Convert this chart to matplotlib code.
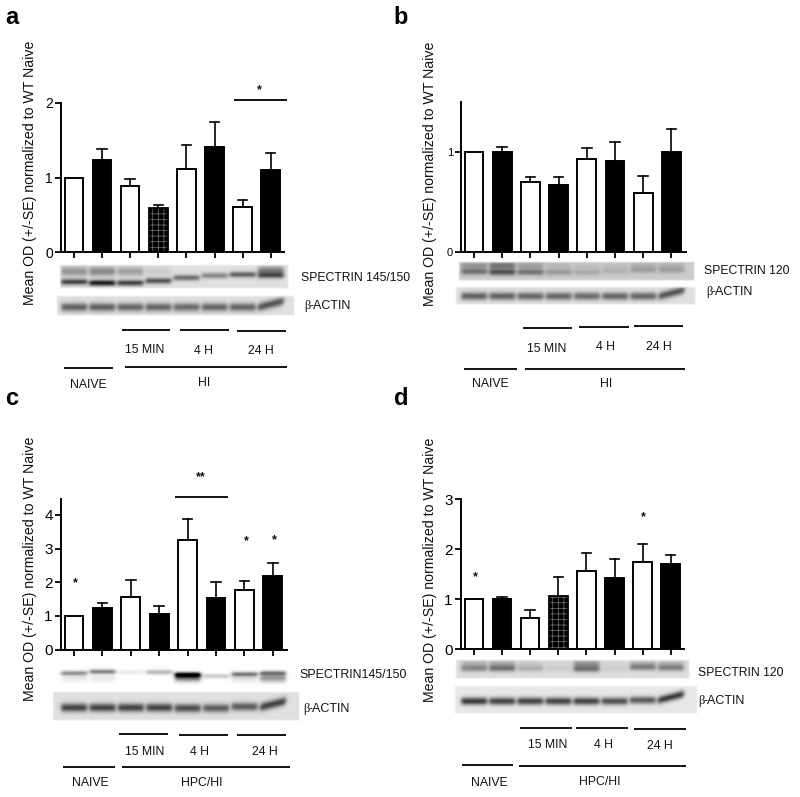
import numpy as np
import matplotlib
matplotlib.use('Agg')
import matplotlib.pyplot as plt

plt.rcParams['font.family'] = ['Liberation Sans', 'DejaVu Sans']
plt.rcParams['hatch.linewidth'] = 0.5

# bar heights and top of the error bars
a_mean = [1.0, 1.23, 0.89, 0.59, 1.12, 1.41, 0.61, 1.10]
a_top = [1.0, 1.38, 0.98, 0.63, 1.44, 1.75, 0.70, 1.33]
b_mean = [1.0, 1.0, 0.70, 0.67, 0.93, 0.91, 0.59, 1.0]
b_top = [1.0, 1.05, 0.75, 0.75, 1.04, 1.10, 0.76, 1.23]
c_mean = [1.0, 1.24, 1.55, 1.07, 3.25, 1.53, 1.77, 2.18]
c_top = [1.0, 1.38, 2.06, 1.31, 3.88, 2.0, 2.03, 2.57]
d_mean = [1.0, 1.0, 0.63, 1.07, 1.57, 1.43, 1.75, 1.70]
d_top = [1.0, 1.05, 0.78, 1.44, 1.93, 1.81, 2.10, 1.88]

# band darkness per lane in the blots
a_main = [.62, .78, .62, .55, .45, .35, .5, .45]
a_upper = [.3, .35, .25, .08, 0, 0, 0, .4]
b_main = [.35, .48, .35, .2, .14, .1, .16, .16]
b_upper = [.22, .35, .18, .08, .05, .05, .1, .1]
c_main = [.42, .48, .08, .28, .85, .2, .5, .5]
c_lower = [.08, .08, 0, 0, .55, 0, .12, .4]
d_main = [.3, .38, .16, .06, .38, .06, .3, .32]
d_upper = [.18, .22, .08, .03, .3, .03, .18, .16]
actin_a = [.5, .5, .48, .48, .46, .48, .48, .55]
actin_b = [.5, .5, .48, .48, .46, .48, .48, .55]
actin_c = [.62, .62, .62, .62, .58, .52, .52, .62]
actin_d = [.68, .64, .64, .64, .64, .6, .55, .68]

W, H = 800, 797
fig = plt.figure(figsize=(W / 100, H / 100), dpi=100)

# overlay in pixel coordinates for blots, lines and text
ov = fig.add_axes([0, 0, 1, 1])
ov.axis('off')


def bars(x0, x1, ytop, y0, c0, dx, ymax, mean, top, ticks, size, hatched=None):
    ax = fig.add_axes([x0 / W, 1 - y0 / H, (x1 - x0) / W, (y0 - ytop) / H])
    ax.patch.set_alpha(0)
    ax.set_xlim((x0 - c0) / dx, (x1 - c0) / dx)
    ax.set_ylim(0, ymax)
    for i in range(8):
        fc = 'white' if i % 2 == 0 else 'black'
        if i > 0:
            ax.plot([i, i], [mean[i], top[i]], color='black', lw=1.2, zorder=1)
            ax.plot([i - .17, i + .17], [top[i], top[i]], color='black', lw=1.2, zorder=1)
        if i == hatched:
            ax.bar(i, mean[i], 0.66, color='black', edgecolor='#777777', hatch='+++', lw=0, zorder=2)
            ax.bar(i, mean[i], 0.66, fill=False, edgecolor='black', lw=1.3, zorder=3)
        else:
            ax.bar(i, mean[i], 0.66, color=fc, edgecolor='black', lw=1.4, zorder=2)
    for s in ['top', 'right']:
        ax.spines[s].set_visible(False)
    for s in ['left', 'bottom']:
        ax.spines[s].set_linewidth(1.4)
    ax.set_xticks(range(8))
    ax.set_xticklabels([])
    ax.set_yticks(ticks)
    ax.tick_params(axis='both', length=4, width=1.3, labelsize=size, pad=1.5)
    return ax


def blot(x0, x1, y0, y1, bg, c0, dx, bands, last_slope=0.0):
    # bands: (darkness per lane, y per lane, sigma)
    xs = np.arange(x0, x1, 1 / 3)
    ys = np.arange(y0, y1, 1 / 3)
    X, Y = np.meshgrid(xs, ys)
    dark = np.zeros_like(X)
    for amp, yc, sig in bands:
        for i in range(8):
            xc = c0 + i * dx
            slope = last_slope if i == 7 else 0.0
            prof = 0.5 * (np.tanh((X - xc + 12.8) / 2.2) - np.tanh((X - xc - 12.8) / 2.2))
            dark += amp[i] * prof * np.exp(-((Y - yc[i] - slope * (X - xc)) ** 2) / (2 * sig ** 2))
    img = np.clip(bg - dark, 0, 1)
    edge = np.minimum.reduce([X - x0, x1 - X, Y - y0, y1 - Y])
    rgba = np.dstack([img, img, img, np.clip(edge / 2.0, 0, 1)])
    ov.imshow(rgba, extent=(x0, x1, y1, y0), aspect='auto', interpolation='bilinear', zorder=1)


def line(x0, x1, y):
    ov.plot([x0, x1], [y, y], color='black', lw=1.3, solid_capstyle='butt', zorder=3)


def label(x, y, s, size=8.8, ha='center'):
    ov.text(x, y, s, fontsize=size, ha=ha, va='center', color='#111111', zorder=4)


def actin(x, y, size=9):
    ov.text(x, y, 'β', fontsize=size, ha='left', va='center', family='Liberation Serif', color='#111111')
    ov.text(x + 5.5, y, '-ACTIN', fontsize=size, ha='left', va='center', color='#111111')


def star(x, y, s='*'):
    ov.text(x, y, s, fontsize=9, ha='center', va='center', fontweight='bold', color='#111111')


def ylab(x, y):
    ov.text(x, y, 'Mean OD (+/-SE) normalized to WT Naive', fontsize=10.2, rotation=90,
            ha='center', va='center', color='#111111')


# panel a
bars(60.5, 284, 103, 252, 74, 28.1, 2, a_mean, a_top, [0, 1, 2], 10, hatched=3)
# panel b
bars(460.5, 686, 102, 252, 474, 28.2, 1.5, b_mean, b_top, [0, 1], 8)
# panel c
bars(60.5, 287, 498.7, 649.7, 74, 28.4, 4.48, c_mean, c_top, [0, 1, 2, 3, 4], 11)
# panel d
bars(460.5, 684, 499.3, 649.3, 474, 28.1, 3, d_mean, d_top, [0, 1, 2, 3], 11, hatched=3)

# blots
blot(59, 289, 265, 289, .88, 74, 28.1,
     [(a_main, [282, 283, 283, 281, 278, 276, 275, 276], 2.0),
      (a_upper, [272, 272, 272, 272, 271, 271, 271, 271.5], 3.2)])
blot(56, 295, 295, 316, .88, 74, 28.1,
     [(actin_a, [307, 307, 307, 307, 307, 307, 307, 304], 3.0)], last_slope=-.25)
blot(458, 695, 261, 281, .8, 474, 28.2,
     [(b_main, [271.5, 272, 272, 272, 272, 271, 270, 270], 2.2),
      (b_upper, [265.5, 265.5, 265.5, 265.5, 266, 266, 265.5, 265.5], 2.6)])
blot(455, 696, 286, 305, .88, 474, 28.2,
     [(actin_b, [296, 296, 296, 296, 296, 296, 296, 293], 2.8)], last_slope=-.25)
blot(52, 297, 658, 686, 1.0, 74, 28.4,
     [(c_main, [673, 671.5, 672, 672, 674.5, 676, 674, 673], 1.7),
      (c_lower, [678, 678, 678, 678, 677.5, 678, 678, 678], 2.8)])
blot(52, 300, 691, 721, .88, 74, 28.4,
     [(actin_c, [707.5, 707.5, 707.5, 707.5, 708, 708, 706.5, 704], 3.0)], last_slope=-.25)
blot(455, 690, 659, 679, .87, 474, 28.1,
     [(d_main, [668.5, 668.5, 668.5, 668.5, 669, 669, 667.5, 668], 2.2),
      (d_upper, [664, 664, 664, 664, 664, 664, 664, 664], 2.6)])
blot(454, 698, 685, 714, .91, 474, 28.1,
     [(actin_d, [701, 701, 701, 701, 701, 701, 700, 697], 2.7)], last_slope=-.25)

# panel letters
for x, y, s in [(12, 24, 'a'), (401, 24, 'b'), (12, 405, 'c'), (401, 405, 'd')]:
    ov.text(x, y, s, fontsize=17, fontweight='bold', ha='center', va='baseline')

ylab(30, 173)
ylab(430, 174)
ylab(30, 569)
ylab(430, 570)

# grouping lines
for seg in [(122, 170, 330), (180, 229, 330), (237, 286, 331), (64, 113, 367.5), (125, 287, 366.5),
            (234, 287, 100),
            (523, 572, 327.5), (579, 629, 327), (634, 683, 326), (464, 517, 369), (525, 685, 369),
            (119, 168, 734), (179, 228, 735), (237, 286, 735), (63, 115, 767), (122, 290, 767),
            (175, 228, 496.5),
            (520, 572, 727.5), (576, 628, 727.5), (634, 686, 728.5), (462, 513, 765), (519, 686, 766)]:
    line(*seg)

for x, y, s in [(145, 350, '15 MIN'), (204, 351, '4 H'), (261, 351, '24 H'), (88, 385, 'NAIVE'), (204, 383, 'HI'),
                (547, 349, '15 MIN'), (605, 347, '4 H'), (659, 347, '24 H'), (490, 384, 'NAIVE'), (606, 384, 'HI'),
                (145, 752, '15 MIN'), (200, 752, '4 H'), (265, 752, '24 H'), (90, 783, 'NAIVE'), (202, 783, 'HPC/HI'),
                (548, 745, '15 MIN'), (603, 745, '4 H'), (660, 746, '24 H'), (489, 783, 'NAIVE'), (600, 782, 'HPC/HI')]:
    label(x, y, s)

label(301, 278, 'SPECTRIN 145/150', 8.8, 'left')
label(704, 271, 'SPECTRIN 120', 8.8, 'left')
label(299, 675, 'SPECTRIN145/150', 8.9, 'left')
label(698, 673, 'SPECTRIN 120', 8.8, 'left')
actin(304, 306)
actin(706, 292)
actin(303, 709)
actin(698, 701)

star(259, 90)
star(201, 477, '**')
star(75, 583)
star(246, 541)
star(274, 540)
star(475, 577)
star(643, 517)

ov.set_xlim(0, W)
ov.set_ylim(H, 0)
fig.savefig('out.png', dpi=100)
